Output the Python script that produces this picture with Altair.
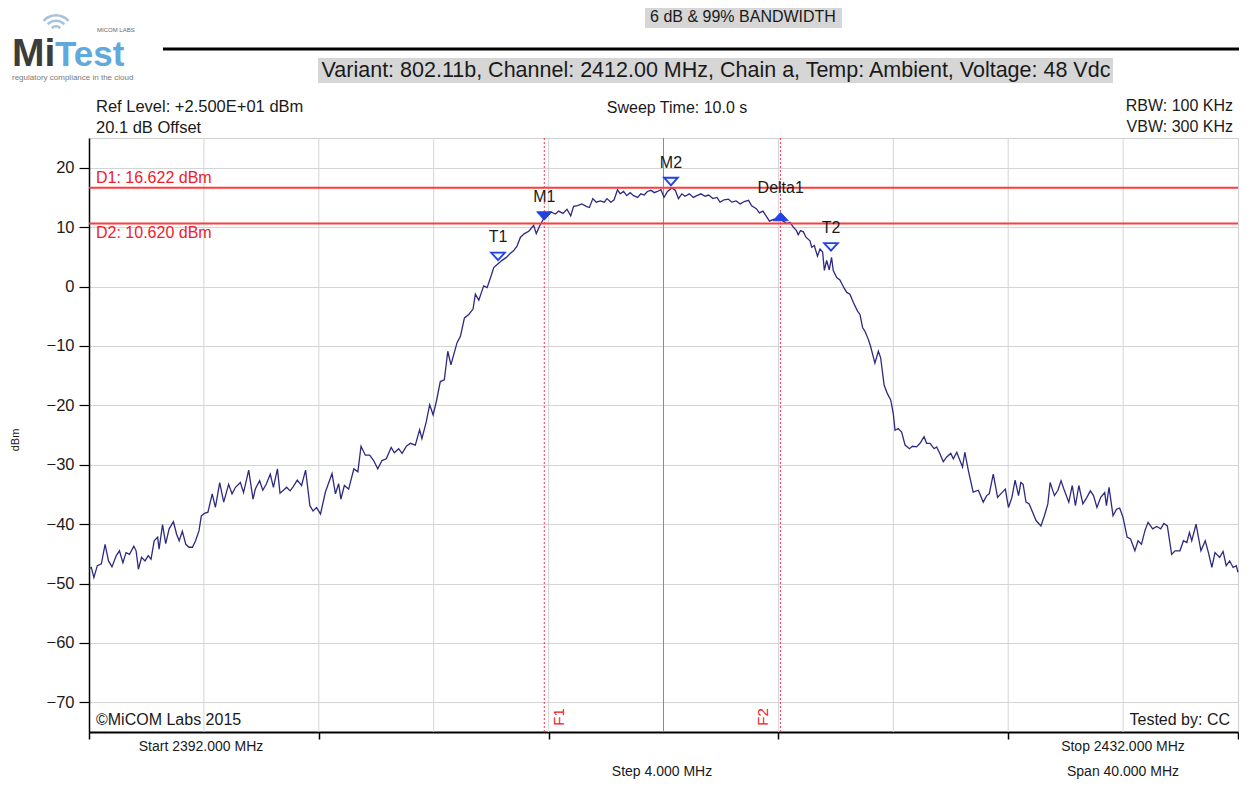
import altair as alt
import pandas as pd

# ---------------- data ----------------
# trace: left skirt
skirt_l_freq = [2392.00, 2392.08, 2392.17, 2392.29, 2392.43, 2392.56, 2392.68, 2392.80, 2392.95,
                2393.06, 2393.18, 2393.29, 2393.41, 2393.56, 2393.64, 2393.72, 2393.83, 2393.95,
                2394.06, 2394.16, 2394.27, 2394.39, 2394.44, 2394.56, 2394.67, 2394.79, 2394.94,
                2395.05, 2395.14, 2395.25, 2395.37, 2395.48, 2395.60, 2395.71, 2395.83, 2395.91,
                2396.02, 2396.14, 2396.29, 2396.40, 2396.55, 2396.69, 2396.86, 2396.98,
                2397.10, 2397.27, 2397.38, 2397.56, 2397.71, 2397.79, 2397.94,
                2398.05, 2398.17, 2398.31, 2398.42, 2398.56, 2398.65, 2398.77, 2398.88,
                2399.00, 2399.11, 2399.25, 2399.40, 2399.54, 2399.69, 2399.80, 2399.92]
skirt_l_dbm = [-47.5, -47.3, -49.0, -47.0, -46.7, -43.4, -46.2, -47.2, -45.3,
               -44.5, -46.5, -44.8, -45.1, -43.7, -44.5, -47.6, -45.6, -46.2,
               -45.3, -45.9, -42.8, -42.2, -44.2, -40.1, -43.3, -40.8, -39.6,
               -41.7, -42.8, -41.2, -43.4, -43.9, -43.9, -42.8, -41.1, -38.6,
               -38.2, -38.0, -34.9, -37.2, -33.0, -36.3, -33.3, -34.9,
               -33.8, -33.0, -34.7, -30.9, -35.8, -34.1, -32.7,
               -34.3, -33.3, -31.6, -33.8, -30.7, -34.8, -34.3, -33.8,
               -34.4, -33.7, -32.6, -33.5, -30.9, -36.9, -37.8, -37.2]

# trace: rising edge
rise_freq = [2400.06, 2400.23, 2400.46, 2400.58, 2400.69, 2400.77, 2400.89,
             2401.04, 2401.22, 2401.36, 2401.47, 2401.62, 2401.77, 2401.91,
             2402.05, 2402.20, 2402.35, 2402.52, 2402.63, 2402.78, 2402.90,
             2403.05, 2403.19, 2403.36, 2403.51, 2403.59, 2403.74, 2403.86, 2403.98,
             2404.09, 2404.23, 2404.37, 2404.49, 2404.60, 2404.81, 2404.93,
             2405.07, 2405.22, 2405.37, 2405.45, 2405.57, 2405.74, 2405.86,
             2406.00, 2406.09, 2406.23, 2406.38, 2406.53, 2406.65, 2406.78, 2406.90,
             2407.02, 2407.16, 2407.31, 2407.48, 2407.57, 2407.71]
rise_dbm = [-38.3, -34.6, -31.5, -34.9, -33.2, -35.8, -33.5,
            -34.1, -30.7, -31.2, -26.9, -28.4, -28.4, -29.3,
            -30.7, -29.3, -29.0, -27.1, -28.0, -27.3, -28.1,
            -26.9, -26.4, -26.7, -24.1, -25.6, -22.8, -19.9, -21.6,
            -19.4, -16.0, -15.7, -10.9, -13.2, -9.5, -8.4,
            -5.3, -4.7, -3.8, -1.3, -2.3, 0.1, -0.2,
            1.8, 3.2, 3.8, 4.4, 4.9, 5.5, 6.0, 6.8,
            8.3, 8.9, 9.3, 10.3, 8.9, 10.4]

# trace: top of the channel
top_freq = [2407.88, 2408.06, 2408.24, 2408.35, 2408.50, 2408.64, 2408.77, 2408.87,
            2409.01, 2409.16, 2409.31, 2409.42, 2409.54, 2409.66, 2409.80, 2409.94,
            2410.03, 2410.17, 2410.28, 2410.40, 2410.49, 2410.61, 2410.72, 2410.84, 2410.96,
            2411.10, 2411.21, 2411.33, 2411.44, 2411.56, 2411.68, 2411.79, 2411.91,
            2412.02, 2412.14, 2412.29, 2412.41, 2412.52, 2412.64, 2412.75, 2412.90,
            2413.04, 2413.16, 2413.30, 2413.45, 2413.57, 2413.72, 2413.86, 2413.97,
            2414.11, 2414.26, 2414.38, 2414.53, 2414.67, 2414.81, 2414.96,
            2415.07, 2415.23, 2415.34, 2415.46, 2415.57, 2415.69, 2415.83, 2415.97, 2416.08]
top_dbm = [11.9, 12.6, 12.2, 12.7, 12.3, 13.0, 11.9, 13.5,
           13.6, 13.9, 13.5, 13.3, 14.8, 14.2, 14.4, 14.2,
           14.8, 14.2, 14.6, 16.3, 15.6, 16.0, 15.3, 15.8, 15.3,
           15.0, 15.6, 15.4, 16.0, 16.2, 15.8, 16.0, 16.3,
           15.0, 16.0, 16.6, 16.2, 14.8, 15.6, 15.2, 15.6,
           15.0, 15.3, 15.6, 15.2, 15.4, 14.8, 15.0, 14.2,
           14.6, 14.7, 14.2, 14.4, 13.9, 14.3, 14.5,
           13.6, 13.1, 12.4, 12.7, 11.9, 11.0, 11.3, 11.4, 11.4]

# trace: falling edge
fall_freq = [2416.17, 2416.29, 2416.40, 2416.52, 2416.63, 2416.69, 2416.77, 2416.87, 2416.96,
             2417.10, 2417.16, 2417.25, 2417.36, 2417.45, 2417.54, 2417.60, 2417.68, 2417.77, 2417.85, 2417.91,
             2418.03, 2418.14, 2418.28, 2418.38, 2418.49, 2418.61, 2418.75, 2418.84, 2418.93,
             2419.01, 2419.13, 2419.21, 2419.36, 2419.48, 2419.56, 2419.68, 2419.79, 2419.91,
             2420.00, 2420.06, 2420.17, 2420.29, 2420.41, 2420.56, 2420.67, 2420.81, 2420.93,
             2421.07, 2421.16, 2421.28, 2421.42, 2421.51, 2421.62, 2421.74, 2421.86,
             2422.00, 2422.09, 2422.21, 2422.32, 2422.41, 2422.49, 2422.61, 2422.78, 2422.96,
             2423.13, 2423.25]
fall_dbm = [11.0, 10.6, 10.8, 10.0, 9.4, 8.7, 9.4, 9.2, 8.3,
            7.7, 6.6, 6.9, 5.1, 6.3, 5.8, 2.7, 4.4, 2.8, 4.9, 2.7,
            1.5, 1.1, -0.2, -1.0, -1.3, -2.7, -4.1, -4.7, -6.9,
            -7.5, -8.9, -10.1, -12.9, -10.9, -12.0, -16.6, -18.0, -19.1,
            -21.4, -24.2, -23.9, -24.5, -26.7, -27.3, -26.9, -27.0, -26.4,
            -25.3, -26.4, -26.4, -27.3, -27.0, -28.1, -29.5, -28.7,
            -28.1, -29.0, -27.9, -29.3, -30.4, -27.9, -30.9, -34.6, -34.3,
            -36.3, -35.2]

# trace: right skirt
skirt_r_freq = [2423.34, 2423.48, 2423.63, 2423.78, 2423.90,
                2424.01, 2424.13, 2424.24, 2424.36, 2424.44, 2424.52, 2424.62, 2424.73, 2424.85, 2424.97,
                2425.14, 2425.26, 2425.38, 2425.46, 2425.61, 2425.73, 2425.84, 2425.96,
                2426.11, 2426.23, 2426.34, 2426.46, 2426.60, 2426.74, 2426.86, 2426.97,
                2427.09, 2427.22, 2427.36, 2427.42, 2427.51, 2427.65, 2427.77, 2427.88,
                2428.00, 2428.14, 2428.26, 2428.41, 2428.52, 2428.64, 2428.76, 2428.87,
                2429.03, 2429.17, 2429.31, 2429.42, 2429.54, 2429.69, 2429.81, 2429.98,
                2430.10, 2430.22, 2430.31, 2430.39, 2430.54, 2430.71, 2430.86, 2430.97,
                2431.09, 2431.20, 2431.36, 2431.48, 2431.59, 2431.71, 2431.83, 2431.94, 2432.00]
skirt_r_dbm = [-34.9, -31.6, -35.5, -34.7, -34.1,
               -37.2, -35.5, -32.6, -35.2, -33.0, -33.3, -36.3, -36.6, -38.0, -39.4,
               -40.3, -38.6, -36.6, -33.0, -35.2, -34.3, -32.7, -34.4,
               -36.3, -33.5, -36.9, -33.5, -36.6, -35.5, -34.4, -35.2,
               -37.2, -35.5, -34.7, -36.9, -33.8, -38.6, -37.5, -37.3,
               -38.9, -42.2, -42.5, -44.5, -42.8, -43.4, -41.1, -39.7,
               -40.8, -40.4, -40.8, -39.9, -40.3, -45.1, -44.5, -44.5,
               -42.8, -43.1, -41.4, -42.8, -40.0, -44.5, -42.8, -44.8,
               -47.3, -44.8, -45.6, -44.6, -47.0, -46.2, -47.3, -47.0, -48.1]

# display lines and frequency lines
d_names = ["D1", "D2"]
d_levels = [16.622, 10.620]
f_names = ["F1", "F2"]
f_freqs = [2407.85, 2416.07]

# markers
marker_names = ["M1", "M2", "Delta1", "T1", "T2"]
marker_freqs = [2407.85, 2412.26, 2416.08, 2406.24, 2417.83]
marker_dbm = [11.2, 17.0, 11.1, 4.4, 6.0]

# axes
x_start, x_stop = 2392, 2432
y_min, y_max = -75, 25
y_ticks = [-70, -60, -50, -40, -30, -20, -10, 0, 10, 20]
x_ticks = [2392, 2400, 2408, 2416, 2424, 2432]
x_grid = [2396, 2400, 2404, 2408, 2416, 2420, 2424, 2428]
x_center = [2412]

# ---------------- chart ----------------
FONT = "Liberation Sans"
W, H = 1149, 594
TRACE = "#2d2a80"
RED = "#ff3b3b"
BLUE = "#2142e0"

xs = alt.Scale(domain=[x_start, x_stop], nice=False, zero=False)
ys = alt.Scale(domain=[y_min, y_max], nice=False, zero=False)
XAX = alt.Axis(values=x_ticks, labels=False, grid=False, tickSize=7, tickWidth=1.5,
               domainWidth=2, title=None)
YAX = alt.Axis(values=y_ticks, grid=True, gridColor="#d4d4d4", gridWidth=1,
               tickSize=10, tickWidth=1.2, labelFontSize=16.5, labelPadding=5,
               domainWidth=1.5, title=None, labelFont=FONT, labelColor="#1a1a1a")

trace_df = pd.DataFrame({
    "freq": skirt_l_freq + rise_freq + top_freq + fall_freq + skirt_r_freq,
    "dbm": skirt_l_dbm + rise_dbm + top_dbm + fall_dbm + skirt_r_dbm,
})
d_df = pd.DataFrame({"name": d_names, "dbm": d_levels})
d_df["label"] = [f"{n}: {v:.3f} dBm" for n, v in zip(d_names, d_levels)]
f_df = pd.DataFrame({"name": f_names, "freq": f_freqs})
mk_df = pd.DataFrame({"name": marker_names, "freq": marker_freqs, "dbm": marker_dbm})


def X(field):
    return alt.X(field, type="quantitative", scale=xs, axis=XAX)


def Y(field):
    return alt.Y(field, type="quantitative", scale=ys, axis=YAX)


def txt(s, x, y, size=16, align="left", color="#1a1a1a", angle=None, weight="normal",
        baseline="middle"):
    kw = dict(align=align, baseline=baseline, fontSize=size, color=color, font=FONT,
              fontWeight=weight)
    if angle is not None:
        kw["angle"] = angle
    return alt.Chart(pd.DataFrame({"t": [s]})).mark_text(**kw).encode(
        x=alt.value(x), y=alt.value(y), text="t:N")


def box(x1, x2, y1, y2, color):
    return alt.Chart(pd.DataFrame({"a": [0]})).mark_rect(color=color).encode(
        x=alt.value(x1), x2=alt.value(x2), y=alt.value(y1), y2=alt.value(y2))


grid_x = alt.Chart(pd.DataFrame({"f": x_grid})).mark_rule(color="#d4d4d4", strokeWidth=1).encode(x=X("f"))
center_x = alt.Chart(pd.DataFrame({"f": x_center})).mark_rule(color="#8c8c8c", strokeWidth=1).encode(x=X("f"))

trace = alt.Chart(trace_df).mark_line(color=TRACE, strokeWidth=1.3).encode(x=X("freq"), y=Y("dbm"))

d_lines = alt.Chart(d_df).mark_rule(color=RED, strokeWidth=2).encode(y=Y("dbm"))
d1_lab = alt.Chart(d_df).transform_filter(alt.datum.name == "D1").mark_text(
    align="left", baseline="middle", fontSize=16, font=FONT, color="#f0202a", dy=-10
).encode(x=alt.value(7), y=Y("dbm"), text="label:N")
d2_lab = alt.Chart(d_df).transform_filter(alt.datum.name == "D2").mark_text(
    align="left", baseline="middle", fontSize=16, font=FONT, color="#f0202a", dy=10
).encode(x=alt.value(7), y=Y("dbm"), text="label:N")

f_lines = alt.Chart(f_df).mark_rule(color="#ff3355", strokeWidth=1, strokeDash=[2, 2]).encode(x=X("freq"))
f1_lab = alt.Chart(f_df).transform_filter(alt.datum.name == "F1").mark_text(
    align="center", baseline="middle", fontSize=15, font=FONT, color="#f0202a", angle=270, dy=15
).encode(x=X("freq"), y=alt.value(579), text="name:N")
f2_lab = alt.Chart(f_df).transform_filter(alt.datum.name == "F2").mark_text(
    align="center", baseline="middle", fontSize=15, font=FONT, color="#f0202a", angle=270, dy=-17
).encode(x=X("freq"), y=alt.value(579), text="name:N")

DOWN = "M-1,-0.55L1,-0.55L0,0.55Z"
UP = "M-1,0.55L1,0.55L0,-0.55Z"

mk_filled_down = alt.Chart(mk_df).transform_filter(alt.datum.name == "M1").mark_point(
    shape=DOWN, filled=True, fill=BLUE, stroke=BLUE, strokeWidth=1, size=230, opacity=1, yOffset=-4
).encode(x=X("freq"), y=Y("dbm"))
mk_outline_down = alt.Chart(mk_df).transform_filter(
    alt.FieldOneOfPredicate(field="name", oneOf=["M2", "T1", "T2"])).mark_point(
    shape=DOWN, filled=True, fill="#eef2ff", stroke=BLUE, strokeWidth=1.8, size=190, opacity=1, yOffset=-4
).encode(x=X("freq"), y=Y("dbm"))
mk_filled_up = alt.Chart(mk_df).transform_filter(alt.datum.name == "Delta1").mark_point(
    shape=UP, filled=True, fill=BLUE, stroke=BLUE, strokeWidth=1, size=230, opacity=1, yOffset=-4
).encode(x=X("freq"), y=Y("dbm"))

mk_labels = alt.Chart(mk_df).transform_filter(alt.datum.name != "Delta1").mark_text(
    align="center", baseline="middle", fontSize=16, font=FONT, color="#1a1a1a", dy=-23
).encode(x=X("freq"), y=Y("dbm"), text="name:N")
delta_label = alt.Chart(mk_df).transform_filter(alt.datum.name == "Delta1").mark_text(
    align="center", baseline="middle", fontSize=16, font=FONT, color="#1a1a1a", dy=-33
).encode(x=X("freq"), y=Y("dbm"), text="name:N")

# header / annotation text
header = [
    box(556, 753, -133, -110, "#d6d6d6"),
    txt("6 dB & 99% BANDWIDTH", 654, -121, size=16, align="center"),
    alt.Chart(pd.DataFrame({"a": [0]})).mark_rule(color="black", strokeWidth=3).encode(
        x=alt.value(74), x2=alt.value(1160), y=alt.value(-89)),
    box(229, 1024, -80, -55, "#d6d6d6"),
    txt("Variant: 802.11b, Channel: 2412.00 MHz, Chain a, Temp: Ambient, Voltage: 48 Vdc",
        627, -67, size=21.5, align="center"),
    txt("Ref Level: +2.500E+01 dBm", 7, -31, size=16.5),
    txt("20.1 dB Offset", 7, -10, size=16.5),
    txt("Sweep Time: 10.0 s", 588, -30, size=16, align="center"),
    txt("RBW: 100 KHz", 1144, -32, size=16, align="right"),
    txt("VBW: 300 KHz", 1144, -11, size=16, align="right"),
    txt("dBm", -73, 302, size=11, angle=270, align="center"),
    txt("\u00a9MiCOM Labs 2015", 7, 582, size=16),
    txt("Tested by: CC", 1141, 582, size=16, align="right"),
    txt("Start 2392.000 MHz", 112, 609, size=14, align="center"),
    txt("Stop 2432.000 MHz", 1034, 609, size=14, align="center"),
    txt("Step 4.000 MHz", 573, 634, size=14, align="center"),
    txt("Span 40.000 MHz", 1034, 634, size=14, align="center"),
]

# logo
arcs = [
    alt.Chart(pd.DataFrame({"a": [0]})).mark_arc(
        radius=r, radius2=r - 2.6, theta=5.45, theta2=7.12, color="#a9c3d8"
    ).encode(x=alt.value(-33), y=alt.value(-106))
    for r in [7, 12.5, 18]
]
logo = arcs + [
    txt("Mi", -77, -72, size=39, weight="bold", color="#3c3c3c", baseline="alphabetic"),
    txt("Test", -34, -72, size=35, weight="bold", color="#5fa9dc", baseline="alphabetic"),
    txt("MICOM LABS", 8, -108, size=6, color="#666666"),
    txt("regulatory compliance in the cloud", -77, -60, size=8, color="#7a7a7a"),
]

chart = alt.layer(
    grid_x, center_x, trace, d_lines, f_lines,
    mk_filled_down, mk_outline_down, mk_filled_up, mk_labels, delta_label,
    d1_lab, d2_lab, f1_lab, f2_lab,
    *header, *logo,
).properties(
    width=W, height=H,
    padding={"left": 81, "top": 130, "right": 1, "bottom": 49},
    autosize=alt.AutoSizeParams(type="none"),
    background="white",
).configure_view(
    stroke="#cfcfcf", strokeWidth=1
).configure_axis(
    domainColor="black", tickColor="black"
)

chart.save("out.html", embed_options={"renderer": "svg", "actions": False})
